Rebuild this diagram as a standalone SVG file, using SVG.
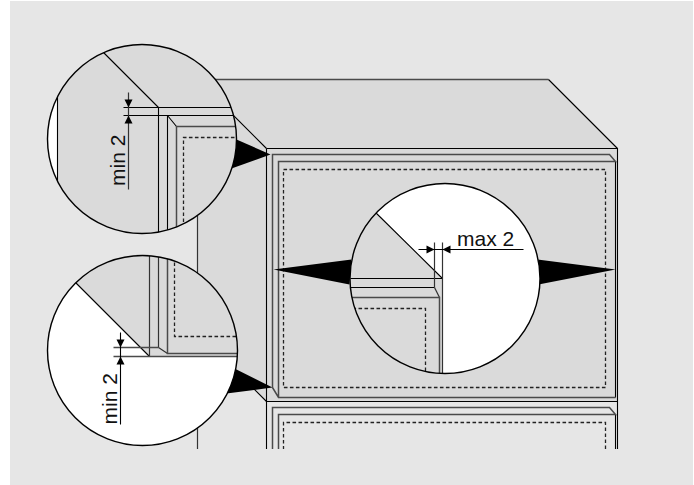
<svg xmlns="http://www.w3.org/2000/svg" width="694" height="485" viewBox="0 0 694 485">
<style>
.k{fill:none;stroke:#000;stroke-width:1.1}
.g{fill:none;stroke:#4a4a4a;stroke-width:1.5}
.g1{fill:none;stroke:#333;stroke-width:1.2}
.d{fill:none;stroke:#222;stroke-width:1.3;stroke-dasharray:3.6 2.4}
.r{fill:none;stroke:#000;stroke-width:1.4}
.w{fill:#000;stroke:none}
.t{font-family:"Liberation Sans",Arial,sans-serif;font-size:21px;fill:#111}
</style>
<defs>
<clipPath id="c1"><circle cx="141.5" cy="138.5" r="94.5"/></clipPath>
<clipPath id="c2"><circle cx="142" cy="350" r="95"/></clipPath>
<clipPath id="c3"><circle cx="444.5" cy="278" r="95"/></clipPath>
<clipPath id="cv"><rect x="0" y="0" width="694" height="448.5"/></clipPath>
</defs>
<rect width="694" height="485" fill="#fff"/>
<rect x="10" y="1" width="683" height="484" fill="#e6e6e6"/>
<g transform="translate(.5 .5)">
<g id="cabinet" clip-path="url(#cv)">
<path d="M197 79H548L617 148H266Z" fill="#dadada"/>
<path d="M197 79L266 148V401L197 332Z" fill="#dadada"/>
<rect x="266" y="148" width="351" height="253" fill="#dadada"/>
<path class="g" d="M197 79H548"/>
<path class="k" d="M197 79L266 148M548 79L617 148M197 332L266 401"/>
<path class="g1" d="M197 79V449"/>
<path class="k" d="M266 148H617V449M266 148V449M266 401H617"/>
<path class="k" d="M615 161V397"/>
<path class="g" d="M272 387V154H609L615 161H278V397M272 387L278 397H615"/>
<path class="d" d="M283 169H605V387H283Z"/>
</g>
<g id="cabinet-lower" clip-path="url(#cv)">
<path class="k" d="M615 414V449"/>
<path class="g" d="M272 449V407H609L615 414H278V449"/>
<path class="d" d="M283 449V422H605V449"/>
</g>
<g id="wedges">
<path class="w" d="M270 154L236 139L231 168Z"/>
<path class="w" d="M272 387L234 368L226 393Z"/>
<path class="w" d="M273 269L351 259L349 284Z"/>
<path class="w" d="M615 269L537 259L538 284Z"/>
</g>
<g id="detail-top">
<circle cx="141.5" cy="138.5" r="94.5" fill="#dadada"/>
<g clip-path="url(#c1)">
<rect x="40" y="40" width="17" height="200" fill="#fff"/>
<path class="k" d="M57 40V240"/>
<path class="k" d="M100 49L158 107M123 107H240M123 115H240M158 107V240M167 115V240M167 115L176 126"/>
<path class="g" d="M176 240V126H240"/>
<path class="d" d="M240 137H183V240"/>
<path class="g1" d="M128 92V189"/>
<path class="w" d="M128 107L124 99H132ZM128 115L124 123H132Z"/>
</g>
<circle class="r" cx="141.5" cy="138.5" r="94.5"/>
<text class="t" transform="translate(124 185.500) rotate(-90)">min 2</text>
</g>
<g id="detail-bottom">
<circle cx="142" cy="350" r="95" fill="#fff"/>
<g clip-path="url(#c2)">
<path d="M70 277L149 356H240V250H70Z" fill="#dadada"/>
<path class="k" d="M70 277L149 356"/>
<path class="g1" d="M149 250V356M158 250V347M158 347L167 353"/>
<path class="g" d="M167 250V353H240"/>
<path class="g" d="M113 347H158M113 356H240"/>
<path class="d" d="M174 250V336H240"/>
<path class="k" d="M120 332V424"/>
<path class="w" d="M120 347L116 339H124ZM120 356L116 364H124Z"/>
</g>
<circle class="r" cx="142" cy="350" r="95"/>
<text class="t" transform="translate(116 424) rotate(-90)">min 2</text>
</g>
<g id="detail-right">
<circle cx="444.5" cy="278" r="95" fill="#fff"/>
<g clip-path="url(#c3)">
<path d="M370 207L442 278V380H340V207Z" fill="#dadada"/>
<path class="k" d="M370 207L442 278M350 278H442M350 287H434"/>
<path class="g1" d="M434 242V287M442 242V380"/>
<path class="g1" d="M434 287L439 297"/>
<path class="g" d="M340 297H439V380"/>
<path class="d" d="M340 308H425V380"/>
<path class="k" d="M418 249H523"/>
<path class="w" d="M434 249L426 245V253ZM442 249L450 245V253Z"/>
</g>
<circle class="r" cx="444.5" cy="278" r="95"/>
<text class="t" x="456.500" y="245">max 2</text>
</g>
</g>
</svg>
